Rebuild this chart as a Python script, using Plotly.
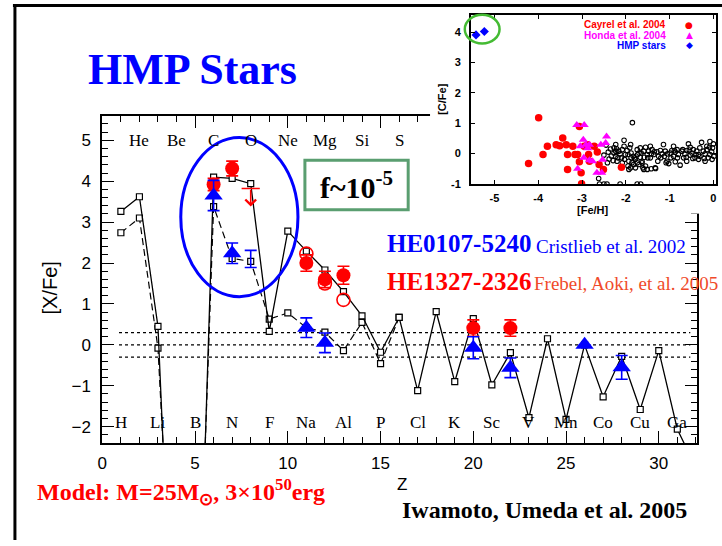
import plotly.graph_objects as go

W, H = 722, 546

# ---------------- main panel data ----------------
model_z = list(range(1, 33))
model_solid = [3.26, 3.62, 0.45, -10.0, -10.3, 4.10, 4.07, 3.94, 0.33, 2.78, 2.29, 1.83,
               1.30, 0.71, -0.18, 0.67, -1.12, 0.81, -0.90, 0.64, -0.98, -0.19, -1.78,
               0.15, -1.82, 0.00, -1.27, -0.28, -1.58, -0.14, -2.06, -3.00]
model_dash_z = list(range(1, 17))
model_dash = [2.74, 3.10, -0.08, -8.7, -9.5, 3.38, 2.11, 2.04, 0.63, 0.78, 0.42, 0.31,
              -0.14, 0.55, -0.46, 0.67]

he0107_z = [6, 7, 11, 12, 20, 22, 26, 28]
he0107_val = [3.65, 2.24, 0.42, 0.05, -0.07, -0.56, 0.00, -0.55]
he0107_err = [0.37, 0.25, 0.24, 0.24, 0.27, 0.24, 0.0, 0.29]
he0107_o_z = [8]
he0107_o_val = [2.10]
he0107_o_err = [0.21]

he1327_z = [6, 7, 11, 12, 13, 20, 22]
he1327_val = [3.92, 4.31, 2.00, 1.60, 1.70, 0.41, 0.41]
he1327_err = [0.15, 0.18, 0.20, 0.20, 0.22, 0.20, 0.20]
he1327_alt_z = [11, 12, 13]
he1327_alt_val = [2.23, 1.50, 1.10]
he1327_ul_z = [8]
he1327_ul_val = [3.82]

ref_levels = [0.3, 0.0, -0.3]

top_elems = ["He", "Be", "C", "O", "Ne", "Mg", "Si", "S"]
top_z = [2, 4, 6, 8, 10, 12, 14, 16]
bottom_elems = ["H", "Li", "B", "N", "F", "Na", "Al", "P", "Cl", "K", "Sc", "V",
                "Mn", "Co", "Cu", "Ga"]
bottom_z = [1, 3, 5, 7, 9, 11, 13, 15, 17, 19, 21, 23, 25, 27, 29, 31]

main_xticks = [0, 5, 10, 15, 20, 25, 30]
main_yticks = [-2, -1, 0, 1, 2, 3, 4, 5]

# ---------------- inset data ----------------
cayrel_feh = [-4.22, -3.99, -3.89, -3.79, -3.59, -3.51, -3.44, -3.36, -3.33, -3.33, -3.21,
              -3.16, -3.10, -3.06, -3.06, -3.02, -3.01, -2.95, -2.87, -2.85, -2.83, -2.72,
              -2.65, -2.61, -2.51, -2.10]
cayrel_cfe = [-0.33, 1.18, -0.03, 0.24, 0.29, 0.26, 0.51, 0.29, -0.03, -0.52, 0.24,
              -0.03, -0.03, 0.89, -0.27, -0.63, -0.99, 0.24, 0.29, -0.03, -0.25, 0.24,
              0.05, -0.36, -0.52, -0.45]
honda_feh = [-3.12, -2.95, -3.10, -2.97, -3.04, -2.91, -2.87, -2.96, -2.83, -2.76, -2.66,
             -2.55, -2.53, -2.57, -2.46, -2.44, -2.83]
honda_cfe = [0.94, 0.94, -0.50, 0.46, 0.24, 0.29, 0.18, -0.14, -0.22, -0.25, -0.63,
             -0.63, -0.20, 0.29, 0.35, 0.56, 0.29]
hmp_feh = [-5.42, -5.23]
hmp_cfe = [3.91, 4.02]
other_feh = [-2.23, -2.21, -2.27, -2.16, -2.08, -2.04, -2.29, -2.20, -2.10, -2.23, -2.01,
             -1.97, -1.91, -1.88, -1.83, -1.93, -1.95, -1.89, -1.82, -1.78, -1.74, -1.70,
             -1.67, -1.63, -1.67, -1.59, -1.55, -1.51, -1.61, -1.55, -1.48, -1.44, -1.40,
             -1.36, -1.33, -1.29, -1.25, -1.21, -1.17, -1.14, -1.10, -1.06, -1.02, -0.99,
             -0.95, -0.91, -0.87, -0.83, -0.80, -0.76, -0.72, -0.68, -0.65, -0.61, -0.57,
             -0.53, -0.49, -0.46, -0.42, -0.38, -0.34, -0.31, -0.27, -0.23, -0.19, -0.15,
             -0.12, -0.08, -0.04, -0.02, 0.01, -0.03, -0.09, -0.21, -0.40, -0.47, -0.55,
             -0.62, -0.70, -0.82, -0.89, -0.97, -1.05, -1.12, -1.20, -1.27, -1.35, -1.42,
             -1.50, -1.58, -1.65, -1.73, -1.80, -1.88, -1.95, -2.03, -2.08, -2.13, -2.18,
             -2.23, -1.59, -1.51, -1.42, -1.32, -1.74, -1.70, -1.86, -1.78, -1.93, -1.63,
             -2.27, -2.04, -1.89, -1.44, -0.91, -0.53, -0.31, -0.15, -0.08, 0.00, -0.19,
             -0.34, -0.61, -0.87, -1.08, -1.85, -2.62, -2.60, -2.50, -2.43, -2.13, -1.74,
             -1.66, -2.45, -2.40, -2.38, -2.42, -2.35, -2.50, -2.33]
other_cfe = [0.30, 0.16, 0.02, 0.08, 0.13, 0.44, -0.23, -0.25, -0.14, -0.09, -0.03,
             0.10, 0.19, 0.02, -0.09, -0.25, -0.41, -0.47, -0.36, -0.19, 0.13, 0.02,
             -0.12, -0.25, 0.19, 0.08, 0.21, -0.03, -0.47, -0.41, 0.08, -0.14, 0.13,
             -0.03, -0.47, 0.06, -0.09, 0.10, -0.01, 0.30, 0.08, -0.25, -0.33, 0.02,
             0.10, -0.09, 0.05, 0.13, -0.03, -0.38, 0.08, -0.14, -0.01, 0.10, 0.32,
             -0.05, 0.02, 0.13, -0.14, 0.08, -0.03, -0.09, 0.37, 0.08, -0.01, 0.13,
             -0.14, -0.03, 0.06, 0.19, -0.09, -0.19, 0.21, -0.16, -0.03, -0.16, 0.12,
             -0.12, 0.13, -0.14, 0.10, -0.14, -0.01, -0.09, -0.14, -0.25, 0.06, -0.01,
             -0.14, -0.12, 0.02, -0.03, -0.14, -0.14, -0.03, -0.19, -0.30, -0.01, -0.14,
             0.08, -0.52, -0.52, -0.50, -0.49, -0.30, -0.36, -0.30, -0.47, -0.52, -0.30,
             0.19, 0.24, 0.30, 0.24, 0.24, 0.21, 0.19, 0.24, 0.40, 0.32, -0.25,
             -0.19, -0.25, -0.27, -0.30, 1.02, -0.82, -1.00, -1.00, -1.00, -1.00, -1.00,
             -1.00, 0.28, 0.05, -0.18, -0.30, 0.15, -0.05, -0.08]
inset_xticks = [-5, -4, -3, -2, -1, 0]
inset_yticks = [-1, 0, 1, 2, 3, 4]


def px(x):
    return x / W


def py(y):
    return 1 - y / H


BLUE = "#0000ff"
RED = "#ff0000"
fig = go.Figure()

# reference dotted lines
for lv in ref_levels:
    fig.add_trace(go.Scatter(x=[0.9, 31.7], y=[lv, lv], mode="lines",
                             line=dict(color="black", width=1.2, dash="dot"),
                             hoverinfo="skip", showlegend=False))

# models
fig.add_trace(go.Scatter(x=model_dash_z, y=model_dash, mode="lines+markers",
                         line=dict(color="black", width=1.2, dash="7px,4px"),
                         marker=dict(symbol="square", size=6, color="white",
                                     line=dict(color="black", width=1.2)),
                         showlegend=False))
fig.add_trace(go.Scatter(x=model_z, y=model_solid, mode="lines+markers",
                         line=dict(color="black", width=1.3),
                         marker=dict(symbol="square", size=6, color="white",
                                     line=dict(color="black", width=1.2)),
                         showlegend=False))

# HE1327-2326
fig.add_trace(go.Scatter(x=he1327_alt_z, y=he1327_alt_val, mode="markers",
                         marker=dict(symbol="circle-open", size=13, color=RED,
                                     line=dict(color=RED, width=1.6)),
                         showlegend=False))
fig.add_trace(go.Scatter(x=he1327_z, y=he1327_val, mode="markers",
                         marker=dict(symbol="circle", size=14, color=RED),
                         error_y=dict(type="data", array=he1327_err, color=RED,
                                      thickness=1.6, width=6),
                         showlegend=False))
fig.add_trace(go.Scatter(x=he1327_ul_z, y=he1327_ul_val, mode="markers",
                         marker=dict(symbol="line-ew", size=13, color=RED,
                                     line=dict(color=RED, width=1.6)),
                         showlegend=False))

# HE0107-5240
fig.add_trace(go.Scatter(x=he0107_o_z, y=he0107_o_val, mode="markers",
                         marker=dict(size=2, color="rgba(0,0,0,0)"),
                         error_y=dict(type="data", array=he0107_o_err, color=BLUE,
                                      thickness=1.6, width=6),
                         showlegend=False))
fig.add_trace(go.Scatter(x=he0107_z, y=he0107_val, mode="markers",
                         marker=dict(symbol="triangle-up", size=16, color=BLUE),
                         error_y=dict(type="data", array=he0107_err, color=BLUE,
                                      thickness=1.6, width=6),
                         showlegend=False))

# cover panel (white background behind inset)
fig.add_trace(go.Scatter(x=[None], y=[None], xaxis="x2", yaxis="y2",
                         showlegend=False, hoverinfo="skip"))

# inset traces
fig.add_trace(go.Scatter(x=other_feh, y=other_cfe, xaxis="x3", yaxis="y3", mode="markers",
                         marker=dict(symbol="circle-open", size=4.5, color="black",
                                     line=dict(color="black", width=1.1)),
                         showlegend=False))
fig.add_trace(go.Scatter(x=cayrel_feh, y=cayrel_cfe, xaxis="x3", yaxis="y3", mode="markers",
                         marker=dict(symbol="circle", size=7.5, color=RED),
                         showlegend=False))
fig.add_trace(go.Scatter(x=honda_feh, y=honda_cfe, xaxis="x3", yaxis="y3", mode="markers",
                         marker=dict(symbol="triangle-up", size=8, color="#ff00ff"),
                         showlegend=False))
fig.add_trace(go.Scatter(x=hmp_feh, y=hmp_cfe, xaxis="x3", yaxis="y3", mode="markers",
                         marker=dict(symbol="diamond", size=7, color=BLUE),
                         showlegend=False))

annotations = []
# element labels
for el, z in zip(top_elems, top_z):
    annotations.append(dict(x=z, y=5.0, xref="x", yref="y", text=el, showarrow=False,
                            xanchor="center", yanchor="middle",
                            font=dict(family="Liberation Serif", size=17, color="black")))
for el, z in zip(bottom_elems, bottom_z):
    annotations.append(dict(x=z, y=-1.9, xref="x", yref="y", text=el, showarrow=False,
                            xanchor="center", yanchor="middle",
                            font=dict(family="Liberation Serif", size=17, color="black")))

# upper-limit arrow for O
for z, v in zip(he1327_ul_z, he1327_ul_val):
    annotations.append(dict(x=z, y=v - 0.44, ax=z, ay=v, xref="x", yref="y",
                            axref="x", ayref="y", text="", showarrow=True,
                            arrowhead=4, arrowsize=1.3, arrowwidth=1.6, arrowcolor=RED))

serif = "Liberation Serif"


def txt(x, y, text, size, color, family=serif, xanchor="center", angle=0):
    return dict(x=px(x), y=py(y), xref="paper", yref="paper", text=text,
                xanchor=xanchor, yanchor="middle", textangle=angle, showarrow=False,
                font=dict(family=family, size=size, color=color))


annotations += [
    txt(189, 70, "<b>HMP Stars</b>", 44, BLUE),
    txt(354, 187, "<b>f~10<sup>-5</sup></b>", 30, "black"),
    txt(383, 246, "<b>HE0107-5240</b>", 25, BLUE, xanchor="left"),
    txt(533, 249, "Cristlieb et al. 2002", 19, BLUE, xanchor="left"),
    txt(383, 285, "<b>HE1327-2326</b>", 25, RED, xanchor="left"),
    txt(531, 287, "Frebel, Aoki, et al. 2005", 19, "#f04a2a", xanchor="left"),
    txt(30, 497, "<b>Model: M=25M<sub>⊙</sub>, 3×10<sup>50</sup>erg</b>", 24, RED,
        xanchor="left"),
    txt(398, 516, "<b>Iwamoto, Umeda et al. 2005</b>", 24, "black", xanchor="left"),
    txt(400, 490, "Z", 17, "black", family="Liberation Sans"),
    txt(45, 291, "[X/Fe]", 20, "black", family="Liberation Sans", angle=-90),
    txt(592, 212, "<b>[Fe/H]</b>", 11, "black", family="Liberation Sans"),
    txt(440, 100, "<b>[C/Fe]</b>", 11, "black", family="Liberation Sans", angle=-90),
]
# inset legend
leg = [("Cayrel et al. 2004", RED, "●", 25), ("Honda et al. 2004", "#ff00ff", "▲", 35.5),
       ("HMP stars", BLUE, "◆", 46)]
for t, col, sym, yy in leg:
    annotations.append(txt(668, yy, "<b>" + t + "</b>", 10, col, family="Liberation Sans",
                           xanchor="right"))
    annotations.append(txt(689, yy, sym, 9, col, family="DejaVu Sans"))

shapes = [
    # outer frame lines
    dict(type="line", xref="paper", yref="paper", x0=px(8), x1=px(722), y0=py(5.5),
         y1=py(5.5), line=dict(color="black", width=3)),
    dict(type="line", xref="paper", yref="paper", x0=px(10), x1=px(10), y0=py(4),
         y1=py(546), line=dict(color="black", width=3)),
    # blue ellipse around C-N-O
    dict(type="circle", xref="paper", yref="paper", x0=px(177), x1=px(295), y0=py(139),
         y1=py(300), line=dict(color=BLUE, width=3)),
    # green box
    dict(type="rect", xref="paper", yref="paper", x0=px(302), x1=px(406), y0=py(162),
         y1=py(212), line=dict(color="#5a9e70", width=3)),
    # green ellipse in inset
    dict(type="circle", xref="paper", yref="paper", x0=px(463), x1=px(498), y0=py(15),
         y1=py(44), line=dict(color="#44bb33", width=2.5)),
]

axis_font = dict(family="Liberation Sans", size=17, color="black")
inset_font = dict(family="Liberation Sans", size=11, color="black", weight="bold")

fig.update_layout(
    width=W, height=H, margin=dict(l=0, r=0, t=0, b=0),
    paper_bgcolor="white", plot_bgcolor="white", showlegend=False,
    xaxis=dict(domain=[px(98), px(697)], range=[0, 32.07], tickvals=main_xticks,
               ticks="inside", ticklen=12, tickwidth=1.2, tickcolor="black",
               minor=dict(dtick=1, ticks="inside", ticklen=6, tickwidth=1, tickcolor="black"),
               showline=True, linecolor="black", linewidth=2, mirror="allticks",
               showgrid=False, zeroline=False, tickfont=axis_font, ticklabelstandoff=4),
    yaxis=dict(domain=[py(448), py(117)], range=[-2.40, 5.60], tickvals=main_yticks,
               ticks="inside", ticklen=12, tickwidth=1.2, tickcolor="black",
               minor=dict(dtick=0.2, ticks="inside", ticklen=6, tickwidth=1, tickcolor="black"),
               showline=True, linecolor="black", linewidth=2, mirror="allticks",
               showgrid=False, zeroline=False, tickfont=axis_font, ticklabelstandoff=6),
    xaxis2=dict(domain=[px(428), 1.0], range=[0, 1], visible=False, anchor="y2"),
    yaxis2=dict(domain=[py(216), py(8)], range=[0, 1], visible=False, anchor="x2"),
    xaxis3=dict(domain=[px(469), px(716)], range=[-5.54, 0.06], tickvals=inset_xticks,
                ticktext=["-5", "-4", "-3", "-2", "-1", "0"], anchor="y3",
                ticks="inside", ticklen=4, tickcolor="black", showline=True,
                linecolor="black", linewidth=1.5, mirror="allticks", showgrid=False,
                zeroline=False, tickfont=inset_font, ticklabelstandoff=3),
    yaxis3=dict(domain=[py(186), py(15)], range=[-1, 4.57], tickvals=inset_yticks,
                ticktext=["-1", "0", "1", "2", "3", "4"], anchor="x3",
                ticks="inside", ticklen=4, tickcolor="black", showline=True,
                linecolor="black", linewidth=1.5, mirror="allticks", showgrid=False,
                zeroline=False, tickfont=inset_font, ticklabelstandoff=6),
    annotations=annotations, shapes=shapes,
)

fig.write_html("out.html")
